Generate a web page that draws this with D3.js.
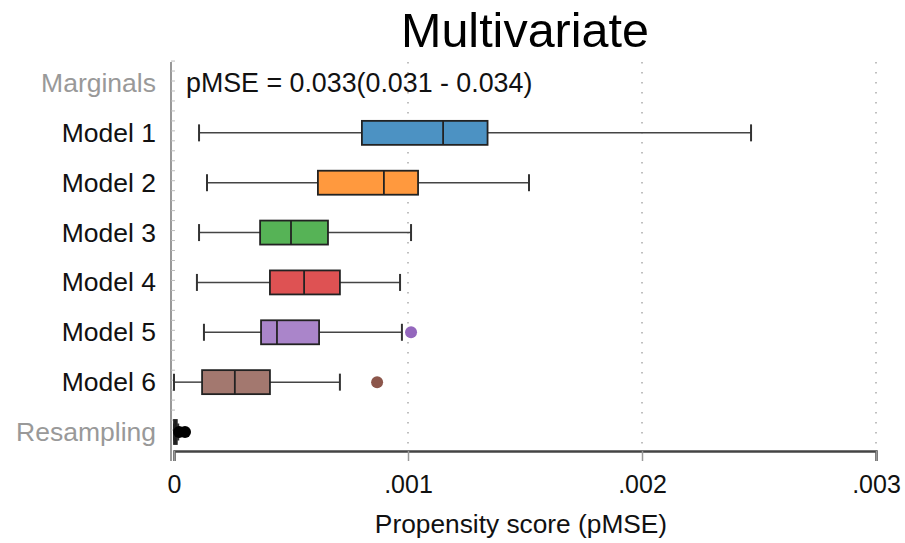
<!DOCTYPE html>
<html><head><meta charset="utf-8">
<script src="https://cdn.jsdelivr.net/npm/d3@7"></script>
<style>body{margin:0;background:#fff}text{font-family:"Liberation Sans",Arial,sans-serif}</style>
</head><body><svg id="c" width="905" height="543"></svg>
<script>
const categories = ["Marginals","Model 1","Model 2","Model 3","Model 4","Model 5","Model 6","Resampling"];
const wLow   = [null,0.000107,0.000141,0.000107,0.000098,0.000128,0.0000,0.0000];
const q1     = [null,0.000803,0.000615,0.000368,0.000410,0.000372,0.000120,0.000000];
const median = [null,0.001150,0.000897,0.000500,0.000556,0.000440,0.000260,0.000004];
const q3     = [null,0.001340,0.001043,0.000658,0.000709,0.000620,0.000410,0.000012];
const wHigh  = [null,0.002466,0.001517,0.001013,0.000966,0.000974,0.000709,0.000018];
const outliers = [[],[],[],[],[],[0.001013],[0.000868],[0.000022,0.000047]];
const colors = [null,"#4c92c3","#ff993e","#56b356","#de5253","#aa85ca","#a3786f","#000"];
const outColors = [null,null,null,null,null,"#9467bd","#8c564b","#000"];
const xTicks = [0,0.001,0.002,0.003];
const xTickLabels = ["0",".001",".002",".003"];
const title = "Multivariate";
const xTitle = "Propensity score (pMSE)";
const annotation = "pMSE = 0.033(0.031 - 0.034)";

const svg = d3.select("#c");
const x = d3.scaleLinear().domain([0,0.003]).range([174,876]);
const y = d3.scalePoint().domain(categories).range([83,432]);
const step = y.step();
const bh = 24;

// grid lines
svg.append("g").selectAll("line").data(xTicks.slice(1)).join("line")
  .attr("x1",d=>x(d)).attr("x2",d=>x(d)).attr("y1",62).attr("y2",451)
  .attr("stroke","#aaa").attr("stroke-width",1.5).attr("stroke-dasharray","1.5,8.5");

// left axis
svg.append("line").attr("x1",171).attr("x2",171).attr("y1",62).attr("y2",461)
  .attr("stroke","#999").attr("stroke-width",2);
const minor = d3.range(0,38).map(i=>y(categories[0]) - step/2 + 3 + i*step/5);
svg.append("g").selectAll("line").data(minor.filter(v=>v<448)).join("line")
  .attr("x1",171).attr("x2",175).attr("y1",d=>d).attr("y2",d=>d)
  .attr("stroke","#bbb").attr("stroke-width",1);

// y labels
svg.append("g").selectAll("text").data(categories).join("text")
  .attr("x",156).attr("y",d=>y(d)+9).attr("text-anchor","end")
  .attr("font-size",26.5)
  .attr("fill",(d,i)=>(i===0||i===categories.length-1)?"#999":"#111")
  .text(d=>d);

// x axis
const xAxis = d3.axisBottom(x).tickValues(xTicks).tickFormat((d,i)=>xTickLabels[i]).tickSize(10).tickPadding(14);
const gx = svg.append("g").attr("transform","translate(0,451)").call(xAxis);
gx.select(".domain").attr("stroke","#444").attr("stroke-width",2.5);
gx.selectAll(".tick line").attr("stroke","#999").attr("stroke-width",1.5);
gx.selectAll(".tick text").attr("font-size",25).attr("fill","#111").attr("font-family","Liberation Sans, Arial, sans-serif");

// boxes
categories.forEach((c,i)=>{
  if (q1[i]===null) return;
  const cy = y(c);
  const g = svg.append("g");
  g.append("line").attr("x1",x(wLow[i])).attr("x2",x(q1[i])).attr("y1",cy).attr("y2",cy).attr("stroke","#444").attr("stroke-width",1.5);
  g.append("line").attr("x1",x(q3[i])).attr("x2",x(wHigh[i])).attr("y1",cy).attr("y2",cy).attr("stroke","#444").attr("stroke-width",1.5);
  [wLow[i],wHigh[i]].forEach(v=>g.append("line").attr("x1",x(v)).attr("x2",x(v)).attr("y1",cy-8.5).attr("y2",cy+8.5).attr("stroke","#333").attr("stroke-width",2));
  g.append("rect").attr("x",x(q1[i])).attr("y",cy-bh/2).attr("width",Math.max(x(q3[i])-x(q1[i]),1)).attr("height",bh)
    .attr("fill",colors[i]).attr("stroke","#222").attr("stroke-width",1.8);
  g.append("line").attr("x1",x(median[i])).attr("x2",x(median[i])).attr("y1",cy-bh/2).attr("y2",cy+bh/2).attr("stroke","#222").attr("stroke-width",1.8);
  g.selectAll("circle").data(outliers[i]).join("circle")
    .attr("cx",d=>x(d)).attr("cy",cy).attr("r",6).attr("fill",outColors[i]);
});

// annotation
svg.append("text").attr("x",186).attr("y",y(categories[0])+9).attr("font-size",26.8).attr("fill","#111").text(annotation);

// titles
svg.append("text").attr("x",525).attr("y",47).attr("text-anchor","middle").attr("font-size",48.5).attr("fill","#000").text(title);
svg.append("text").attr("x",521).attr("y",533).attr("text-anchor","middle").attr("font-size",26.3).attr("fill","#111").text(xTitle);
</script></body></html>
